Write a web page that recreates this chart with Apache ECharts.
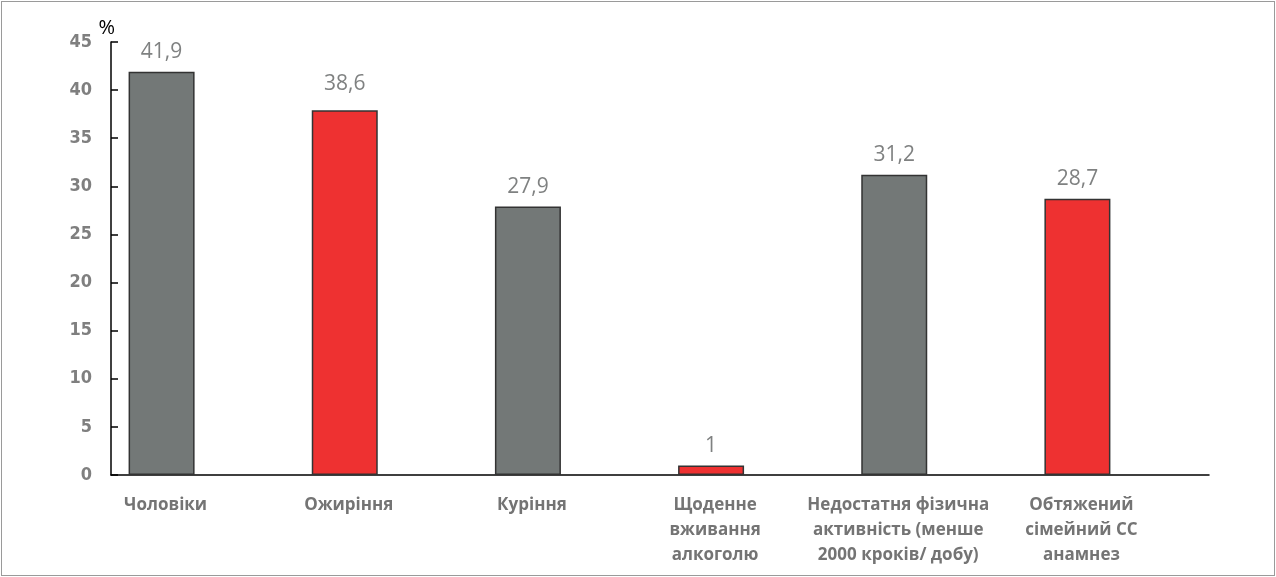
<!DOCTYPE html>
<html>
<head>
<meta charset="utf-8">
<script src="https://cdn.jsdelivr.net/npm/echarts@6/dist/echarts.min.js"></script>
<style>
html,body{margin:0;padding:0;background:#fff;}
#frame{position:absolute;left:1px;top:1px;width:1272px;height:573px;border:1px solid #9a9a9a;box-sizing:content-box;}
#chart{position:absolute;left:0;top:0;width:1276px;height:577px;}
</style>
</head>
<body>
<div id="frame"></div>
<div id="chart"></div>
<script>
const categories = [
  'Чоловіки',
  'Ожиріння',
  'Куріння',
  'Щоденне\nвживання\nалкоголю',
  'Недостатня фізична\nактивність (менше\n2000 кроків/ добу)',
  'Обтяжений\nсімейний СС\nанамнез'
];
// bar heights as drawn
const barValues = [41.9, 37.9, 27.9, 1, 31.2, 28.7];
// values printed above the bars
const labelValues = [41.9, 38.6, 27.9, 1, 31.2, 28.7];
const barColors = ['#737877', '#ee3131', '#737877', '#ee3131', '#737877', '#ee3131'];
const yTicks = [0, 5, 10, 15, 20, 25, 30, 35, 40, 45];

const yMin = yTicks[0], yMax = yTicks[yTicks.length - 1];
const chart = echarts.init(document.getElementById('chart'));
chart.setOption({
  animation: false,
  backgroundColor: 'transparent',
  grid: [
    { left: 70, right: 107, top: 42, bottom: 102, containLabel: false },
    { left: 111, right: 67, top: 42, bottom: 102, containLabel: false }
  ],
  xAxis: [
    {
      gridIndex: 0,
      type: 'category',
      data: categories,
      axisLine: { show: false },
      axisTick: { show: false },
      axisLabel: {
        interval: 0,
        margin: 18,
        padding: [0, 0, 0, 8],
        color: '#747474',
        fontFamily: 'Open Sans',
        fontWeight: 'bold',
        fontSize: 17,
        lineHeight: 25
      }
    },
    {
      gridIndex: 1,
      type: 'value',
      min: 0, max: 1,
      axisLine: { show: true, onZero: false, lineStyle: { color: '#000', width: 1.5 } },
      axisTick: { show: false },
      axisLabel: { show: false },
      splitLine: { show: false }
    }
  ],
  yAxis: [
    {
      gridIndex: 0,
      type: 'value',
      min: yMin, max: yMax,
      show: false,
      splitLine: { show: false }
    },
    {
      gridIndex: 1,
      type: 'value',
      min: yMin, max: yMax,
      interval: 5,
      name: '%',
      nameLocation: 'end',
      nameGap: 4,
      nameTextStyle: { color: '#000', fontFamily: 'Open Sans', fontSize: 20, align: 'right', padding: [0, -4, 0, 0] },
      axisLine: { show: true, onZero: false, lineStyle: { color: '#000', width: 1.5 } },
      axisTick: { show: true, inside: true, length: 7, lineStyle: { color: '#000', width: 1.5 } },
      splitLine: { show: false },
      axisLabel: {
        margin: 19,
        color: '#7f7f7f',
        fontFamily: 'DejaVu Sans Condensed',
        fontWeight: 'bold',
        fontSize: 18
      }
    }
  ],
  series: [
    {
      type: 'bar',
      xAxisIndex: 0, yAxisIndex: 0,
      barWidth: 66,
      data: barValues.map((v, i) => ({
        value: v,
        itemStyle: { color: barColors[i], borderColor: '#333', borderWidth: 1.5 }
      })),
      z: 2
    },
    {
      type: 'scatter',
      xAxisIndex: 0, yAxisIndex: 0,
      symbolSize: 0,
      data: labelValues,
      silent: true,
      label: {
        show: true,
        position: 'top',
        distance: 9,
        color: '#5f6161',
        fontFamily: 'Open Sans',
        fontSize: 21,
        formatter: p => String(p.value).replace('.', ',')
      },
      z: 3
    }
  ]
});
</script>
</body>
</html>
